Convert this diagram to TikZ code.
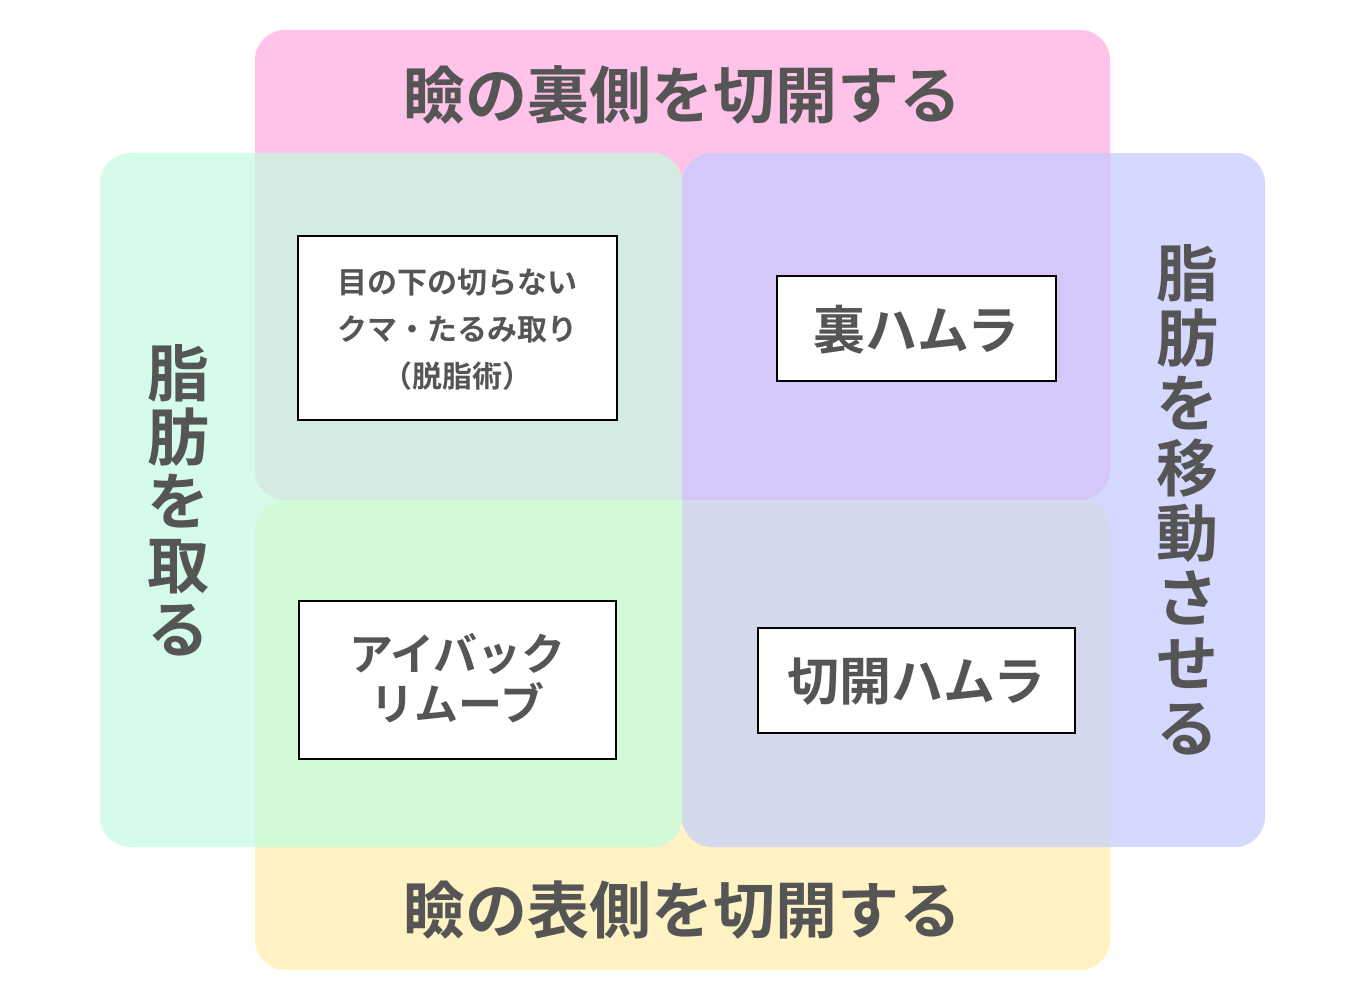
\documentclass[tikz,border=0pt]{standalone}
\usepackage{fontspec}
\newfontfamily\jp{Noto Sans CJK JP}[BoldFont={Noto Sans CJK JP Bold}]
\definecolor{cpink}{HTML}{FFC3E9}
\definecolor{cmint}{HTML}{D5FCEB}
\definecolor{cblue}{HTML}{D5D9FF}
\definecolor{cyel}{HTML}{FFF3C3}
\definecolor{cpm}{HTML}{D5EAE1}
\definecolor{cpb}{HTML}{D6C7FA}
\definecolor{cym}{HTML}{D3FAD6}
\definecolor{cyb}{HTML}{D5D9EC}
\definecolor{txt}{HTML}{555555}
\begin{document}
\begin{tikzpicture}[x=0.5pt,y=-0.5pt,
  lbl/.style={font=\jp\bfseries, text=txt, inner sep=0pt},
  box/.style={draw=black, line width=0.7pt, fill=white},
  rr/.style={rounded corners=15pt}]
\useasboundingbox (0,0) rectangle (1366,1000);
\def\pink{(255,30) rectangle (1110,500)}
\def\yel{(255,500) rectangle (1110,970)}
\def\mint{(100,153) rectangle (682,847)}
\def\blue{(682,153) rectangle (1265,847)}
\fill[cpink,rr] \pink;
\fill[cyel,rr] \yel;
\fill[cmint,rr] \mint;
\fill[cblue,rr] \blue;
\begin{scope}\clip[rr] \pink; \fill[cpm,rr] \mint; \fill[cpb,rr] \blue;\end{scope}
\begin{scope}\clip[rr] \yel; \fill[cym,rr] \mint; \fill[cyb,rr] \blue;\end{scope}
\node[lbl, font=\jp\bfseries\fontsize{31pt}{36pt}\selectfont] (top) at (682,95) {瞼の裏側を切開する};
\node[lbl, font=\jp\bfseries\fontsize{31pt}{36pt}\selectfont] (bot) at (682,910) {瞼の表側を切開する};
\node[lbl, font=\jp\bfseries\fontsize{31pt}{32pt}\selectfont, align=center] (left) at (178,500) {脂\\肪\\を\\取\\る};
\node[lbl, font=\jp\bfseries\fontsize{31pt}{32.5pt}\selectfont, align=center] (right) at (1187,500) {脂\\肪\\を\\移\\動\\さ\\せ\\る};
\draw[box] (298,236) rectangle (617,420);
\node[lbl, font=\jp\bfseries\fontsize{15pt}{23.5pt}\selectfont, align=center] (b1) at (457.5,330) {目の下の切らない\\クマ・たるみ取り\\（脱脂術）};
\draw[box] (777,276) rectangle (1056,381);
\node[lbl, font=\jp\bfseries\fontsize{26pt}{30pt}\selectfont] (b2) at (916.5,330) {裏ハムラ};
\draw[box] (299,601) rectangle (616,759);
\node[lbl, font=\jp\bfseries\fontsize{22pt}{25pt}\selectfont, align=center] (b3) at (457.5,678) {アイバック\\リムーブ};
\draw[box] (758,628) rectangle (1075,733);
\node[lbl, font=\jp\bfseries\fontsize{26pt}{30pt}\selectfont] (b4) at (916.5,682) {切開ハムラ};
\end{tikzpicture}
\end{document}
